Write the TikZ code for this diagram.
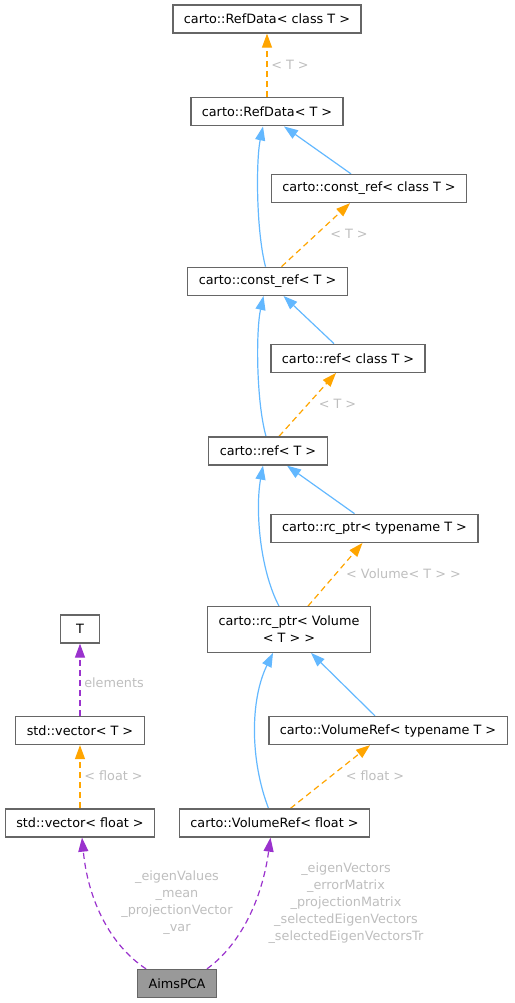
\documentclass[tikz,border=0pt]{standalone}
\usepackage{fontspec}
\setmainfont{DejaVu Sans}
\usepackage{tikz}
\usetikzlibrary{arrows.meta}
\pgfdeclarelayer{bg}
\pgfsetlayers{bg,main}
\definecolor{edgeblue}{HTML}{63B8FF}
\definecolor{edgeorange}{HTML}{FFA500}
\definecolor{edgepurple}{HTML}{9A32CD}
\definecolor{boxgray}{HTML}{666666}
\definecolor{pcagray}{HTML}{999999}
\definecolor{lblgray}{HTML}{BEBEBE}

\begin{document}
\begin{tikzpicture}[x=1pt,y=-1pt,
    font=\fontsize{12.8}{17}\selectfont,
    cls/.style={draw=boxgray,line width=1.3pt,fill=white,minimum height=28pt,inner xsep=11pt,inner ysep=2pt,align=center},
    inh/.style={draw=edgeblue,line width=1.2pt,-{Triangle[length=14pt,width=10pt]}},
    tmpl/.style={draw=edgeorange,line width=1.2pt,dash pattern=on 6pt off 4pt,-{Triangle[length=14pt,width=10pt]}},
    usage/.style={draw=edgepurple,line width=1.2pt,dash pattern=on 6pt off 4pt,-{Triangle[length=14pt,width=10pt]}},
    lbl/.style={text=lblgray,align=center,inner sep=0pt}]

    \useasboundingbox (0,0) rectangle (514,1003);

    \node [cls] (refdatac) at (267,19) {carto::RefData< class T >};
    \node [cls] (refdata) at (267,111.8) {carto::RefData< T >};
    \node [cls] (constrefc) at (369,188.5) {carto::const\_ref< class T >};
    \node [cls] (constref) at (267.5,281.3) {carto::const\_ref< T >};
    \node [cls] (refc) at (348,358.3) {carto::ref< class T >};
    \node [cls] (ref) at (268,451) {carto::ref< T >};
    \node [cls] (rcptrc) at (374.5,528.3) {carto::rc\_ptr< typename T >};
    \node [cls,minimum height=45.5pt] (rcptr) at (289,629.5) {carto::rc\_ptr< Volume\\< T > >};
    \node [cls,minimum width=39pt] (T) at (80,629) {T};
    \node [cls] (vect) at (80,730.5) {std::vector< T >};
    \node [cls] (volreft) at (388,730.5) {carto::VolumeRef< typename T >};
    \node [cls] (vecf) at (80,823) {std::vector< float >};
    \node [cls] (volreff) at (274.5,823) {carto::VolumeRef< float >};
    \node [cls,fill=pcagray] (pca) at (177,983.5) {AimsPCA};

    \node [lbl] (lblA) at (290,65) {< T >};
    \node [lbl] (lblB) at (349,234) {< T >};
    \node [lbl] (lblC) at (337.5,404) {< T >};
    \node [lbl] (lblD) at (403.5,574) {< Volume< T > >};
    \node [lbl] (lblE) at (114,683) {elements};
    \node [lbl] (lblF) at (375,776) {< float >};
    \node [lbl] (lblG) at (113.5,776) {< float >};
    \node [lbl] (lblH) at (177,903) {\_eigenValues\\\_mean\\\_projectionVector\\\_var};
    \node [lbl] (lblI) at (346,903) {\_eigenVectors\\\_errorMatrix\\\_projectionMatrix\\\_selectedEigenVectors\\\_selectedEigenVectorsTr};

    \begin{pgfonlayer}{bg}    % edges behind the boxes
        \draw [tmpl] (refdata.north) -- (refdatac.south);
        \draw [inh] ([xshift=-18pt]constrefc.north) -- ([xshift=17pt]refdata.south);
        \draw [inh] ([xshift=-2pt]constref.north) .. controls (256,230) and (256,160) .. ([xshift=-4pt]refdata.south);
        \draw [tmpl] ([xshift=14pt]constref.north) -- ([xshift=-19pt]constrefc.south);
        \draw [inh] ([xshift=-14pt]refc.north) -- ([xshift=16pt]constref.south);
        \draw [inh] ([xshift=-2pt]ref.north) .. controls (256,400) and (256,330) .. ([xshift=-4pt]constref.south);
        \draw [tmpl] ([xshift=11pt]ref.north) -- ([xshift=-12pt]refc.south);
        \draw [inh] ([xshift=-20pt]rcptrc.north) -- ([xshift=19pt]ref.south);
        \draw [inh] ([xshift=-10pt]rcptr.north) .. controls (260,570) and (255,510) .. ([xshift=-5pt]ref.south);
        \draw [tmpl] ([xshift=19pt]rcptr.north) -- ([xshift=-12pt]rcptrc.south);
        \draw [inh] ([xshift=-13pt]volreft.north) -- ([xshift=22pt]rcptr.south);
        \draw [inh] ([xshift=-6pt]volreff.north) .. controls (250,760) and (250,700) .. ([xshift=-16pt]rcptr.south);
        \draw [tmpl] ([xshift=16pt]volreff.north) -- ([xshift=-18pt]volreft.south);
        \draw [usage] (vect.north) -- (T.south);
        \draw [tmpl] (vecf.north) -- (vect.south);
        \draw [usage] ([xshift=-31pt]pca.north) .. controls (110,945) and (88,900) .. ([xshift=2pt]vecf.south);
        \draw [usage] ([xshift=30pt]pca.north) .. controls (240,945) and (262,900) .. ([xshift=-4pt]volreff.south);
    \end{pgfonlayer}
\end{tikzpicture}
\end{document}
